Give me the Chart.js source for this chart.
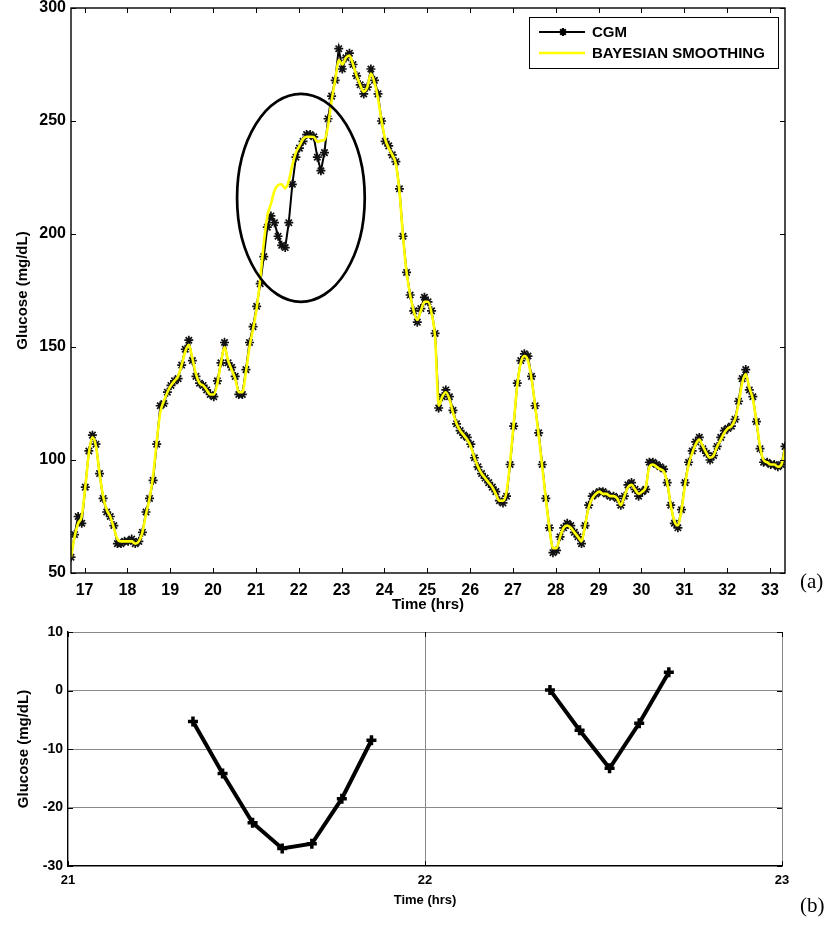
<!DOCTYPE html>
<html>
<head>
<meta charset="utf-8">
<script src="https://cdn.jsdelivr.net/npm/chart.js@4/dist/chart.umd.min.js"></script>
<style>
  html, body { margin: 0; padding: 0; background: #fff; }
  #wrap { position: relative; width: 837px; height: 929px; }
  #topChart { position: absolute; left: 0; top: 0; }
  #botChart { position: absolute; left: 0; top: 615px; }
  .tag { position: absolute; font-family: "Liberation Serif", "Times New Roman", serif; font-size: 21px; line-height: 1; color: #000; }
</style>
</head>
<body>
<div id="wrap">
  <canvas id="topChart" width="837" height="615" style="width:837px;height:615px"></canvas>
  <canvas id="botChart" width="837" height="314" style="width:837px;height:314px"></canvas>
  <div class="tag" style="left:800px;top:571px">(a)</div>
  <div class="tag" style="left:800px;top:895px">(b)</div>
</div>
<script>
// ---- CGM trace, one reading every 5 minutes starting at 16:41 ----
const START_HOUR = 16 + 41 / 60;
const SAMPLE_MINUTES = 5;

const cgmValues = [
  57, 67, 75, 72, 88, 104, 111, 107, 94, 83, 77, 75,
  71, 63, 63, 64, 64, 65, 63, 64, 68, 77, 83, 91,
  107, 124, 125, 130, 133, 135, 136, 142, 149, 153, 144, 137,
  134, 133, 131, 129, 128, 135, 143, 152, 143, 141, 137, 129,
  129, 140, 152, 159, 168, 178, 190, 203, 208, 205, 199, 195,
  194, 205, 222, 234, 238, 241, 244, 244, 243, 234, 228, 236,
  251, 261, 268, 282, 273, 278, 280, 275, 270, 266, 262, 265,
  273, 268, 262, 250, 241, 239, 235, 232, 220, 199, 183, 173,
  166, 161, 167, 172, 170, 166, 156, 123, 128, 131, 128, 122,
  116, 113, 111, 110, 107, 101, 97, 94, 92, 90, 88, 86,
  82, 81, 84, 98, 115, 134, 144, 147, 146, 137, 124, 112,
  98, 83, 70, 59, 60, 66, 70, 72, 71, 68, 66, 63,
  71, 80, 84, 85, 86, 86, 85, 84, 84, 83, 80, 84,
  89, 90, 87, 84, 86, 87, 99, 99, 98, 97, 96, 90,
  80, 72, 70, 78, 90, 99, 104, 108, 110, 105, 103, 100,
  102, 106, 110, 113, 114, 115, 118, 126, 136, 140, 131, 128,
  117, 105, 99, 99, 98, 98, 97, 98, 106
];

const smoothValues = [
  57, 66, 72, 75, 88, 103, 110, 106, 94, 84, 78, 75,
  70, 65, 64, 64, 64, 64, 63, 64, 68, 76, 83, 93,
  108, 121, 126, 130, 133, 135, 137, 142, 148, 151, 145, 138,
  134, 133, 131, 129, 129, 134, 143, 150, 144, 140, 136, 130,
  130, 139, 150, 158, 167, 180, 196, 208, 213.3, 219.2, 221.6, 222,
  220.2, 223.5, 230.5, 236, 239, 242, 243, 243, 242.9, 240.8, 241.3, 241.6,
  247.9, 259, 268, 277, 275, 278, 279, 275, 270, 266, 263, 265,
  271, 267, 260, 250, 242, 238, 235, 231, 219, 199, 183, 173,
  166, 162, 166, 170, 170, 165, 154, 124, 128, 130, 127, 121,
  116, 113, 111, 109, 106, 101, 97, 94, 92, 90, 88, 85,
  82, 82, 86, 99, 116, 133, 143, 146, 144, 136, 124, 111,
  97, 83, 70, 61, 61, 66, 70, 71, 70, 68, 66, 64,
  71, 79, 83, 85, 86, 85, 85, 84, 84, 83, 80, 84,
  88, 89, 87, 85, 86, 88, 97, 98, 97, 96, 95, 90,
  80, 73, 71, 78, 89, 98, 103, 107, 109, 106, 103, 101,
  102, 106, 109, 112, 114, 115, 118, 125, 134, 138, 132, 127,
  117, 106, 100, 99, 98, 98, 97, 98, 105
];

const hourTicks = [17, 18, 19, 20, 21, 22, 23, 24, 25, 26, 27, 28, 29, 30, 31, 32, 33];
const glucoseTicks = [50, 100, 150, 200, 250, 300];

// ---- residuals (CGM minus smoothed) over the two highlighted dips ----
const dipOneHours = [21.35, 21.433, 21.517, 21.6, 21.683, 21.767, 21.85];
const dipOneValues = [-5.3, -14.2, -22.6, -27.0, -26.2, -18.5, -8.5];
const dipTwoHours = [22.35, 22.433, 22.517, 22.6, 22.683];
const dipTwoValues = [0.1, -6.8, -13.3, -5.6, 3.1];
const residualHourTicks = [21, 22, 23];
const residualTicks = [-30, -20, -10, 0, 10];

// ---- helpers ----
const FONT = '"Liberation Sans", Arial, Helvetica, sans-serif';
const sampleHours = cgmValues.map((_, i) => START_HOUR + i * SAMPLE_MINUTES / 60);
const toPoints = (xs, ys) => ys.map((v, i) => ({ x: xs[i], y: v }));

function starPath(ctx, x, y, r) {
  const d = r * Math.SQRT1_2;
  ctx.moveTo(x - r, y); ctx.lineTo(x + r, y);
  ctx.moveTo(x, y - r); ctx.lineTo(x, y + r);
  ctx.moveTo(x - d, y - d); ctx.lineTo(x + d, y + d);
  ctx.moveTo(x - d, y + d); ctx.lineTo(x + d, y - d);
}

// small tick marks drawn inside the plot frame (all four sides)
const innerTicks = {
  id: 'innerTicks',
  afterDraw(chart, args, opts) {
    const { ctx, chartArea: a, scales: { x, y } } = chart;
    const len = opts.len || 5;
    ctx.save();
    ctx.strokeStyle = '#000';
    ctx.lineWidth = 1;
    ctx.beginPath();
    x.ticks.forEach(t => {
      const px = Math.round(x.getPixelForValue(t.value)) + 0.5;
      ctx.moveTo(px, a.bottom); ctx.lineTo(px, a.bottom - len);
      ctx.moveTo(px, a.top); ctx.lineTo(px, a.top + len);
    });
    y.ticks.forEach(t => {
      const py = Math.round(y.getPixelForValue(t.value)) + 0.5;
      ctx.moveTo(a.left, py); ctx.lineTo(a.left + len, py);
      ctx.moveTo(a.right, py); ctx.lineTo(a.right - len, py);
    });
    ctx.stroke();
    if (opts.frame) {
      ctx.lineWidth = 1.4;
      ctx.strokeRect(a.left, a.top, a.right - a.left, a.bottom - a.top);
    }
    ctx.restore();
  }
};

// ellipse highlighting the region where the smoothed curve departs from CGM
const ellipseMark = {
  id: 'ellipseMark',
  afterDatasetsDraw(chart, args, o) {
    if (!o || o.cx === undefined) return;
    const { ctx, scales: { x, y } } = chart;
    const cx = x.getPixelForValue(o.cx), cy = y.getPixelForValue(o.cy);
    const rx = Math.abs(x.getPixelForValue(o.cx + o.rx) - cx);
    const ry = Math.abs(y.getPixelForValue(o.cy + o.ry) - cy);
    ctx.save();
    ctx.beginPath();
    ctx.ellipse(cx, cy, rx, ry, 0, 0, Math.PI * 2);
    ctx.lineWidth = 2.7;
    ctx.strokeStyle = '#000';
    ctx.stroke();
    ctx.restore();
  }
};

// boxed legend in the upper right of the plot
const boxLegend = {
  id: 'boxLegend',
  afterDraw(chart, args, o) {
    if (!o || !o.show) return;
    const { ctx, chartArea: a } = chart;
    const w = 249, h = 51;
    const left = a.right - 7 - w, top = a.top + 9;
    ctx.save();
    ctx.fillStyle = '#fff';
    ctx.fillRect(left, top, w, h);
    ctx.strokeStyle = '#000';
    ctx.lineWidth = 1;
    ctx.strokeRect(left + 0.5, top + 0.5, w, h);
    const ds = chart.data.datasets;
    const rows = [ds[1], ds[0]];
    rows.forEach((d, k) => {
      const yy = top + 15 + k * 21;
      ctx.beginPath();
      ctx.strokeStyle = d.borderColor;
      ctx.lineWidth = d.borderWidth;
      ctx.moveTo(left + 10, yy); ctx.lineTo(left + 56, yy);
      ctx.stroke();
      if (d.pointRadius) {
        ctx.beginPath();
        ctx.lineWidth = 2;
        starPath(ctx, left + 34, yy, 4);
        ctx.stroke();
      }
      ctx.fillStyle = '#000';
      ctx.font = 'bold 15px ' + FONT;
      ctx.textBaseline = 'middle';
      ctx.fillText(d.label, left + 63, yy + 1);
    });
    ctx.restore();
  }
};

Chart.register(innerTicks, ellipseMark, boxLegend);

const tickFont = (size) => ({ family: FONT, size: size, weight: 'bold', lineHeight: 1 });
// keep the plot frame exactly where the layout padding puts it
const noEdgePad = s => { s.paddingTop = 0; s.paddingBottom = 0; };

// ---------------- upper chart: CGM and smoothed glucose ----------------
new Chart(document.getElementById('topChart'), {
  type: 'line',
  data: {
    datasets: [
      {
        label: 'BAYESIAN SMOOTHING',
        data: toPoints(sampleHours, smoothValues),
        borderColor: '#ffff00',
        borderWidth: 2.6,
        pointRadius: 0,
        cubicInterpolationMode: 'monotone',
        order: 0
      },
      {
        label: 'CGM',
        data: toPoints(sampleHours, cgmValues),
        borderColor: '#000',
        backgroundColor: '#000',
        borderWidth: 2,
        pointStyle: 'star',
        pointRadius: 4.5,
        pointBorderWidth: 1.7,
        pointBorderColor: '#111',
        tension: 0,
        order: 1
      }
    ]
  },
  options: {
    responsive: false,
    animation: false,
    events: [],
    layout: { padding: { top: 8, right: 52, left: 0, bottom: 0 } },
    plugins: {
      legend: { display: false },
      tooltip: { enabled: false },
      innerTicks: { len: 5, frame: true },
      ellipseMark: { cx: 22.05, cy: 216, rx: 1.49, ry: 46 },
      boxLegend: { show: true }
    },
    scales: {
      x: {
        type: 'linear',
        min: sampleHours[0],
        max: sampleHours[sampleHours.length - 1],
        afterBuildTicks: s => { s.ticks = hourTicks.map(v => ({ value: v })); },
        afterFit: s => { s.height = 42; },
        grid: { display: false, drawTicks: false },
        border: { display: false },
        ticks: { padding: 10, color: '#000', font: tickFont(16), maxRotation: 0, autoSkip: false },
        title: { display: true, text: 'Time (hrs)', color: '#000', font: { family: FONT, size: 15, weight: 'bold' }, padding: { top: 0, bottom: 1 } }
      },
      y: {
        min: 50,
        max: 300,
        afterBuildTicks: s => { s.ticks = glucoseTicks.map(v => ({ value: v })); },
        afterFit: s => { s.width = 71; noEdgePad(s); },
        grid: { display: false, drawTicks: false },
        border: { display: false },
        ticks: { padding: 5, color: '#000', font: tickFont(16) },
        title: { display: true, text: 'Glucose (mg/dL)', color: '#000', font: { family: FONT, size: 15, weight: 'bold' }, padding: { top: 14, bottom: 0 } }
      }
    }
  }
});

// ---------------- lower chart: residuals over the dips ----------------
const GRID_GRAY = '#8a8a8a';
const gridColor = c => (c.index === 0 ? 'rgba(0,0,0,0)' : GRID_GRAY);

new Chart(document.getElementById('botChart'), {
  type: 'line',
  data: {
    datasets: [
      {
        data: toPoints(dipOneHours, dipOneValues),
        borderColor: '#000', backgroundColor: '#000',
        borderWidth: 4, pointStyle: 'cross', pointRadius: 5, pointBorderWidth: 3.5, tension: 0
      },
      {
        data: toPoints(dipTwoHours, dipTwoValues),
        borderColor: '#000', backgroundColor: '#000',
        borderWidth: 4, pointStyle: 'cross', pointRadius: 5, pointBorderWidth: 3.5, tension: 0
      }
    ]
  },
  options: {
    responsive: false,
    animation: false,
    events: [],
    layout: { padding: { top: 17, right: 55, left: 0, bottom: 0 } },
    plugins: {
      legend: { display: false },
      tooltip: { enabled: false },
      innerTicks: { len: 5, frame: false }
    },
    scales: {
      x: {
        type: 'linear',
        min: 21,
        max: 23,
        afterBuildTicks: s => { s.ticks = residualHourTicks.map(v => ({ value: v })); },
        afterFit: s => { s.height = 63; },
        grid: { color: gridColor, lineWidth: 1, drawTicks: false },
        border: { display: true, color: '#000', width: 1.4 },
        ticks: { padding: 8, color: '#000', font: tickFont(13), maxRotation: 0, autoSkip: false },
        title: { display: true, text: 'Time (hrs)', color: '#000', font: { family: FONT, size: 13, weight: 'bold' }, padding: { top: 0, bottom: 21 } }
      },
      y: {
        min: -30,
        max: 10,
        afterBuildTicks: s => { s.ticks = residualTicks.map(v => ({ value: v })); },
        afterFit: s => { s.width = 68; noEdgePad(s); },
        grid: { color: gridColor, lineWidth: 1, drawTicks: false },
        border: { display: true, color: '#000', width: 1.4 },
        ticks: { padding: 5, color: '#000', font: tickFont(14) },
        title: { display: true, text: 'Glucose (mg/dL)', color: '#000', font: { family: FONT, size: 15, weight: 'bold' }, padding: { top: 15, bottom: 0 } }
      }
    }
  }
});
</script>
</body>
</html>
